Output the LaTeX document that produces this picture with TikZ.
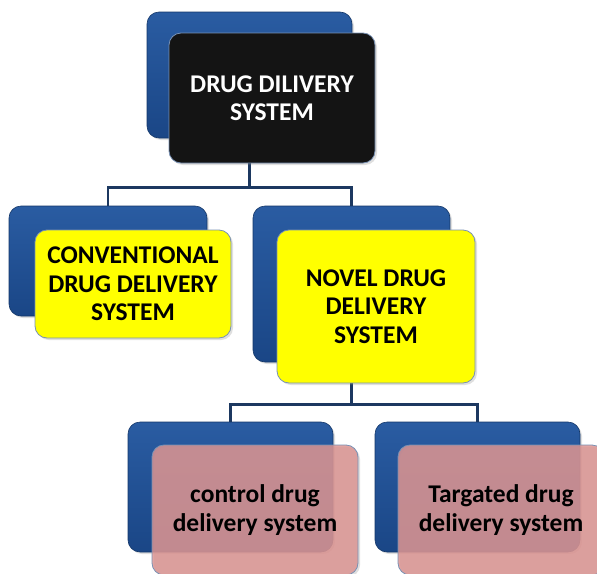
\documentclass[tikz,border=0pt]{standalone}
\usepackage{fontspec}
\setmainfont{Carlito}
\usetikzlibrary{shadows}
\definecolor{bluetop}{RGB}{42,92,162}
\definecolor{bluebot}{RGB}{26,70,134}
\definecolor{blueline}{RGB}{20,55,105}
\definecolor{linkblue}{RGB}{28,56,96}
\definecolor{boxblack}{RGB}{20,20,20}
\definecolor{boxyellow}{RGB}{255,255,0}
\definecolor{boxpink}{RGB}{220,148,146}
\definecolor{frameline}{RGB}{120,145,180}
\begin{document}
\begin{tikzpicture}[x=1pt,y=-1pt]
  \tikzstyle{every node}=[rounded corners=12pt, inner sep=0pt, align=center, font=\bfseries\fontsize{25.5}{28.5}\selectfont]
  \tikzstyle{back}=[draw=blueline, line width=0.6pt, top color=bluetop, bottom color=bluebot, drop shadow={opacity=0.25, shadow xshift=2pt, shadow yshift=-2pt}]
  \tikzstyle{front}=[draw=frameline, line width=0.8pt, drop shadow={opacity=0.25, shadow xshift=2pt, shadow yshift=-2pt}]
  \tikzstyle{edge}=[linkblue, line width=2.5pt]

  \clip (0,0) rectangle (597,573);

  % back boxes
  \node[back, minimum width=205pt, minimum height=126pt] (dds) at (249.5,75) {};
  \node[back, minimum width=198pt, minimum height=110pt] (cdds) at (108,261) {};
  \node[back, minimum width=197pt, minimum height=156pt] (ndds) at (351.5,284) {};
  \node[back, minimum width=205pt, minimum height=130pt] (ctrl) at (230.5,487) {};
  \node[back, minimum width=205pt, minimum height=130pt] (targ) at (477.5,487) {};

  % connectors
  \draw[edge] (dds.south) -- ++(0,49) -| (cdds.north);
  \draw[edge] (dds.south) -- ++(0,49) -| (ndds.north);
  \draw[edge] (ndds.south) -- ++(0,42) -| (ctrl.north);
  \draw[edge] (ndds.south) -- ++(0,42) -| (targ.north);

  % front boxes
  \node[front, fill=boxblack, text=white, minimum width=206pt, minimum height=130pt] (ddsf) at (272,98) {DRUG DILIVERY\\SYSTEM};
  \node[front, fill=boxyellow, minimum width=196pt, minimum height=108pt] (cddsf) at (133,284) {CONVENTIONAL\\DRUG DELIVERY\\SYSTEM};
  \node[front, fill=boxyellow, minimum width=198pt, minimum height=153pt] (nddsf) at (376,306.5) {NOVEL DRUG\\DELIVERY\\SYSTEM};
  \node[front, fill=boxpink, fill opacity=0.85, text opacity=1, minimum width=206pt, minimum height=130pt] (ctrlf) at (255,510) {control drug\\delivery system};
  \node[front, fill=boxpink, fill opacity=0.85, text opacity=1, minimum width=206pt, minimum height=130pt] (targf) at (501,510) {Targated drug\\delivery system};
\end{tikzpicture}
\end{document}
